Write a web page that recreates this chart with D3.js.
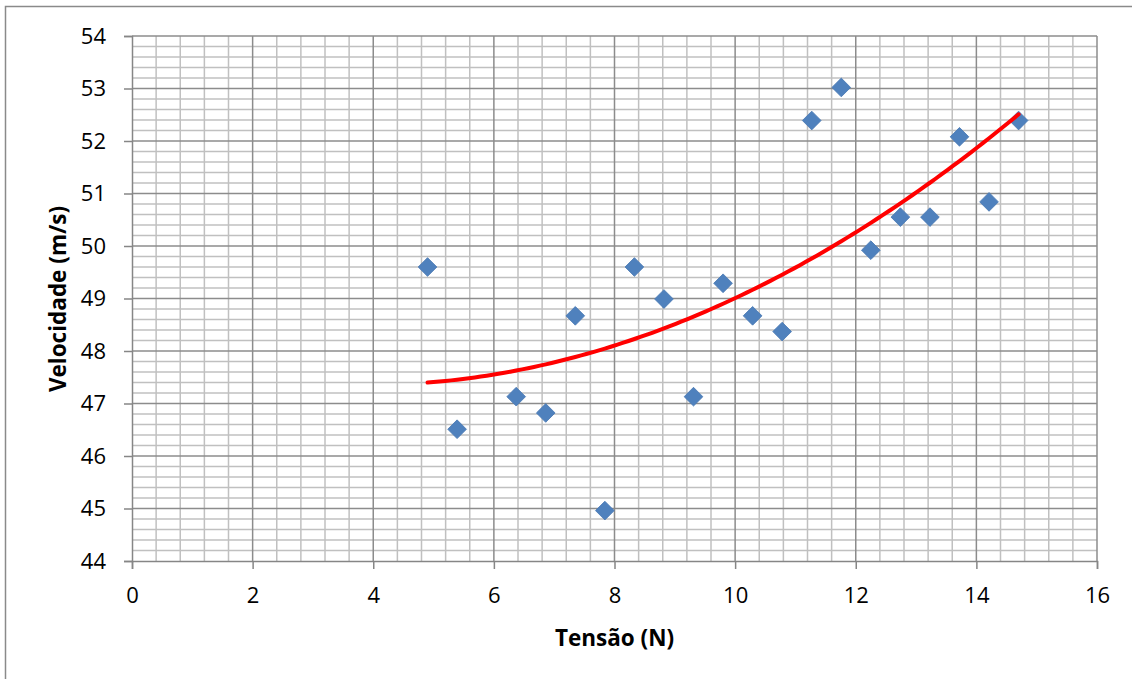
<!DOCTYPE html>
<html>
<head>
<meta charset="utf-8">
<script src="https://cdn.jsdelivr.net/npm/d3@7"></script>
<style>
  html, body { margin: 0; padding: 0; background: #fff; }
  svg { display: block; }
  text { font-family: "Open Sans", Lato, sans-serif; fill: #000; }
</style>
</head>
<body>
<svg id="chart" width="1132" height="679"></svg>
<script>
// Tension applied to the string (N)
const tensao = [4.9, 5.39, 6.37, 6.86, 7.35, 7.84, 8.33, 8.82, 9.31, 9.8,
                10.29, 10.78, 11.27, 11.76, 12.25, 12.74, 13.23, 13.72, 14.21, 14.7];
// Measured wave speed (m/s)
const velocidade = [49.6, 46.51, 47.13, 46.82, 48.67, 44.96, 49.6, 48.99, 47.13, 49.29,
                    48.67, 48.37, 52.39, 53.02, 49.92, 50.55, 50.55, 52.08, 50.84, 52.39];

const xTicks = [0, 2, 4, 6, 8, 10, 12, 14, 16];
const yTicks = [44, 45, 46, 47, 48, 49, 50, 51, 52, 53, 54];
const xTitle = "Tensão (N)";
const yTitle = "Velocidade (m/s)";

const svg = d3.select("#chart");
const W = 1132, H = 679;
const pLeft = 132, pRight = 1097, pTop = 36, pBottom = 561;

// outer chart frame (right and bottom edges fall outside the canvas)
svg.append("rect")
  .attr("x", 5.5).attr("y", 6.5)
  .attr("width", W + 20).attr("height", H + 20)
  .attr("fill", "#fff").attr("stroke", "#8a8a8a").attr("stroke-width", 1.5);

const x = d3.scaleLinear().domain([0, 16]).range([pLeft, pRight]);
const y = d3.scaleLinear().domain([44, 54]).range([pBottom, pTop]);

// minor grid: 0.4 N across, 0.2 m/s up
const minorX = d3.range(0, 16.0001, 0.4).filter(v => Math.abs(v / 2 - Math.round(v / 2)) > 1e-6);
const minorY = d3.range(44, 54.0001, 0.2).filter(v => Math.abs(v - Math.round(v)) > 1e-6);
const grid = svg.append("g");
grid.selectAll(".mx").data(minorX).join("line")
  .attr("x1", d => x(d)).attr("x2", d => x(d))
  .attr("y1", pTop).attr("y2", pBottom)
  .attr("stroke", "#c0c0c0").attr("stroke-width", 1.5);
grid.selectAll(".my").data(minorY).join("line")
  .attr("x1", pLeft).attr("x2", pRight)
  .attr("y1", d => y(d)).attr("y2", d => y(d))
  .attr("stroke", "#c0c0c0").attr("stroke-width", 1.5);
// major grid
grid.selectAll(".Mx").data(xTicks.slice(1)).join("line")
  .attr("x1", d => x(d)).attr("x2", d => x(d))
  .attr("y1", pTop).attr("y2", pBottom)
  .attr("stroke", "#8c8c8c").attr("stroke-width", 1.5);
grid.selectAll(".My").data(yTicks.slice(1)).join("line")
  .attr("x1", pLeft).attr("x2", pRight)
  .attr("y1", d => y(d)).attr("y2", d => y(d))
  .attr("stroke", "#8c8c8c").attr("stroke-width", 1.5);

// axes
const xAxis = svg.append("g").attr("transform", `translate(0,${pBottom})`)
  .call(d3.axisBottom(x).tickValues(xTicks).tickSize(8).tickPadding(18).tickFormat(d3.format("d")));
const yAxis = svg.append("g").attr("transform", `translate(${pLeft},0)`)
  .call(d3.axisLeft(y).tickValues(yTicks).tickSize(8).tickPadding(18).tickFormat(d3.format("d")));
[xAxis, yAxis].forEach(g => {
  g.select(".domain").attr("stroke", "#868686").attr("stroke-width", 1.5);
  g.selectAll(".tick line").attr("stroke", "#868686").attr("stroke-width", 1.5);
  g.selectAll(".tick text").style("font-size", "22px").attr("fill", "#000");
});

// quadratic least-squares trendline
function polyfit2(xs, ys) {
  const S = [0, 0, 0, 0, 0], T = [0, 0, 0];
  xs.forEach((xi, i) => {
    let p = 1;
    for (let k = 0; k < 5; k++) { S[k] += p; if (k < 3) T[k] += p * ys[i]; p *= xi; }
  });
  const A = [[S[0], S[1], S[2], T[0]], [S[1], S[2], S[3], T[1]], [S[2], S[3], S[4], T[2]]];
  for (let i = 0; i < 3; i++) {
    for (let j = i + 1; j < 3; j++) {
      const f = A[j][i] / A[i][i];
      for (let k = i; k < 4; k++) A[j][k] -= f * A[i][k];
    }
  }
  const c = [0, 0, 0];
  for (let i = 2; i >= 0; i--) {
    let s = A[i][3];
    for (let k = i + 1; k < 3; k++) s -= A[i][k] * c[k];
    c[i] = s / A[i][i];
  }
  return c;
}
const coef = polyfit2(tensao, velocidade);
const xmin = d3.min(tensao), xmax = d3.max(tensao);
const trend = d3.range(0, 101).map(i => {
  const t = xmin + (xmax - xmin) * i / 100;
  return [t, coef[0] + coef[1] * t + coef[2] * t * t];
});

// markers
const diamond = d3.symbol().type(d3.symbolSquare).size(175);
svg.append("g").selectAll("path").data(tensao.map((t, i) => [t, velocidade[i]])).join("path")
  .attr("d", diamond)
  .attr("transform", d => `translate(${x(d[0])},${y(d[1])}) rotate(45)`)
  .attr("fill", "#4f81bd").attr("stroke", "#4a7ab3").attr("stroke-width", 0.8);

svg.append("path")
  .datum(trend)
  .attr("d", d3.line().x(d => x(d[0])).y(d => y(d[1])))
  .attr("fill", "none").attr("stroke", "#ff0000").attr("stroke-width", 4)
  .attr("stroke-linecap", "round");

// axis titles
svg.append("text")
  .attr("x", (pLeft + pRight) / 2).attr("y", 646)
  .attr("text-anchor", "middle")
  .style("font-size", "22.5px").style("font-weight", "bold")
  .text(xTitle);
svg.append("text")
  .attr("transform", `translate(66,299) rotate(-90)`)
  .attr("text-anchor", "middle")
  .style("font-size", "22.5px").style("font-weight", "bold")
  .text(yTitle);
</script>
</body>
</html>
